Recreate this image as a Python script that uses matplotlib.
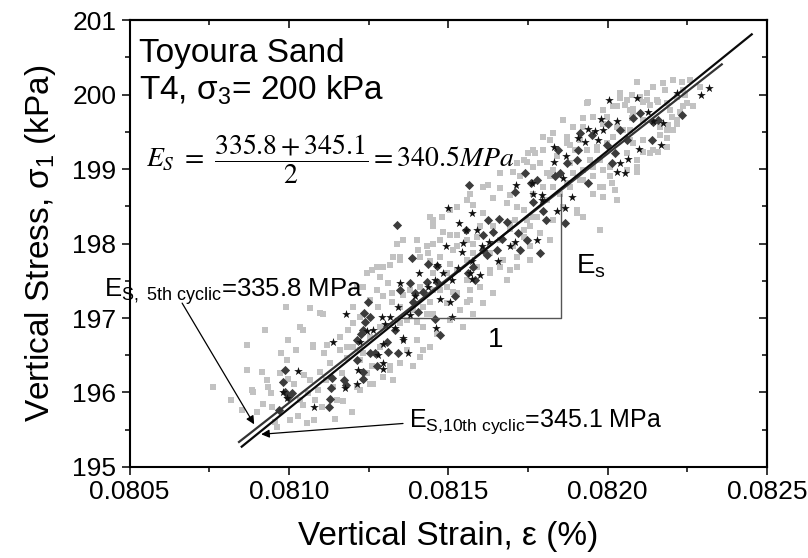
import matplotlib
matplotlib.use("Agg")
import matplotlib.pyplot as plt
from matplotlib.ticker import MultipleLocator

plt.rcParams['font.family'] = ['Liberation Sans', 'DejaVu Sans']
plt.rcParams['mathtext.fontset'] = 'custom'
plt.rcParams['mathtext.rm'] = 'Liberation Sans'
plt.rcParams['mathtext.it'] = 'Liberation Sans:italic'
plt.rcParams['mathtext.bf'] = 'Liberation Sans:bold'

# grey squares (all cycles)
grey_strain = [
    0.080761, 0.080817, 0.080852, 0.080867, 0.080883, 0.080887, 0.080899, 0.080915, 0.080920, 0.080930,
    0.080935, 0.080943, 0.080946, 0.080956, 0.080964, 0.080974, 0.080972, 0.080995, 0.080998, 0.081004,
    0.081016, 0.081021, 0.081030, 0.081035, 0.081045, 0.081047, 0.081056, 0.081061, 0.081066, 0.081075,
    0.081079, 0.081082, 0.081092, 0.081098, 0.081103, 0.081110, 0.081116, 0.081121, 0.081129, 0.081139,
    0.081145, 0.081150, 0.081160, 0.081166, 0.081171, 0.081181, 0.081197, 0.081202, 0.081213, 0.081223,
    0.081234, 0.081244, 0.081260, 0.081265, 0.080992, 0.081066, 0.081098, 0.081035, 0.080998, 0.080869,
    0.080925,
    0.081338, 0.081406, 0.081349, 0.081317, 0.081286, 0.081260, 0.081312, 0.081276, 0.081296, 0.081323,
    0.081281, 0.081223, 0.081202, 0.081186, 0.081160, 0.081108, 0.081045, 0.081077, 0.081181, 0.081223,
    0.081254, 0.081286, 0.081349, 0.081370, 0.081401, 0.081390, 0.081422, 0.081432, 0.081443, 0.081349,
    0.081359, 0.081323, 0.081380, 0.081411, 0.081453, 0.081474, 0.081495, 0.081516, 0.081537, 0.081558,
    0.081527, 0.081495, 0.081453, 0.081506, 0.081474, 0.081437, 0.081453, 0.081516, 0.081558, 0.081579,
    0.081589, 0.081527, 0.081484, 0.081568, 0.081443, 0.081358, 0.081327, 0.081295, 0.081245, 0.081214,
    0.081254,
    0.081527, 0.081453, 0.081479, 0.081579, 0.081610, 0.081568, 0.081626, 0.081663, 0.081641, 0.081683,
    0.081715, 0.081694, 0.081725, 0.081746, 0.081788, 0.081809, 0.081798, 0.081830, 0.081892, 0.081898,
    0.081872, 0.081798, 0.081772, 0.081704, 0.081506, 0.081474, 0.081432, 0.081411, 0.081443, 0.081527,
    0.081558, 0.081579, 0.081600, 0.081641, 0.081694, 0.081709, 0.081746, 0.081767, 0.081757, 0.081736,
    0.081715, 0.081663, 0.081694, 0.081631, 0.081820, 0.081757, 0.081923, 0.081976, 0.081904,
    0.082091, 0.082143, 0.082175, 0.082206, 0.082237, 0.082258, 0.082039, 0.082060, 0.082123, 0.082154,
    0.082185, 0.082070, 0.082018, 0.081986, 0.081955, 0.081924, 0.081892, 0.081861, 0.081939, 0.081798,
    0.081830, 0.081872, 0.081882, 0.081934, 0.081966, 0.081997, 0.082070, 0.082112, 0.082164, 0.082185,
    0.082206, 0.082217, 0.082143, 0.082112, 0.082091, 0.082060, 0.081976, 0.081955, 0.081986, 0.082007,
    0.081955, 0.081924, 0.081913, 0.081882, 0.081830, 0.081767, 0.081736, 0.081751, 0.081851, 0.081955,
    0.081976,
    0.082232, 0.082290, 0.082180, 0.082102, 0.082076, 0.082039, 0.082055, 0.082081, 0.082112, 0.082159,
    0.082217, 0.082243, 0.082248, 0.082269, 0.082227, 0.082201, 0.082190, 0.082185, 0.082159, 0.082091,
    0.082029, 0.081997, 0.082070, 0.082076, 0.082013, 0.082023, 0.081986, 0.082123,
    0.081286, 0.081328, 0.081390, 0.081422, 0.081317,
    0.081934, 0.081986, 0.082028, 0.082081, 0.082133, 0.082196, 0.082237, 0.082269, 0.081861, 0.081924,
    0.081986, 0.082049, 0.082112, 0.082164, 0.082217, 0.081913, 0.081966, 0.082018, 0.082081, 0.082133,
    0.082185, 0.081840, 0.081882, 0.081945, 0.082007, 0.082060, 0.082091, 0.081819, 0.081872, 0.081924,
    0.081986, 0.082028, 0.081767, 0.081809, 0.081861, 0.081903, 0.081736, 0.081778, 0.081830, 0.081694,
    0.081736, 0.081788, 0.081663, 0.081704, 0.081757, 0.081631, 0.081673, 0.081715, 0.081589, 0.081631,
    0.081683, 0.081558, 0.081600, 0.081641, 0.081527, 0.081568, 0.081610, 0.081495, 0.081537, 0.081579,
    0.081453, 0.081506, 0.081547, 0.081422, 0.081464, 0.081401, 0.081443, 0.081370, 0.081411, 0.081349,
    0.081317, 0.081296, 0.081254, 0.081223,
    0.081233, 0.081276, 0.081349, 0.081401, 0.081453, 0.081506, 0.081558, 0.081610, 0.081663, 0.081715,
    0.081767, 0.081819, 0.081202,
]
grey_stress = [
    196.08, 195.90, 195.76, 196.30, 196.03, 196.01, 195.74, 196.28, 195.85, 196.17,
    196.08, 195.99, 195.81, 195.61, 195.54, 196.53, 196.26, 196.44, 196.18, 195.63,
    196.12, 196.57, 195.68, 195.90, 195.83, 196.23, 195.59, 195.99, 196.17, 196.61,
    195.63, 195.90, 196.03, 196.28, 195.81, 196.53, 196.17, 196.64, 196.39, 196.08,
    195.65, 195.90, 196.57, 196.26, 195.88, 196.46, 195.74, 196.61, 196.08, 196.44,
    196.53, 196.26, 196.35, 196.12, 197.15, 197.13, 197.07, 196.88, 196.70, 196.64,
    196.84,
    198.00, 197.91, 197.78, 197.71, 197.55, 197.65, 197.47, 197.38, 197.29, 197.22,
    197.15, 197.02, 196.93, 196.84, 196.75, 197.06, 196.84, 196.64, 196.61, 196.57,
    196.75, 196.88, 196.93, 196.97, 196.95, 197.11, 197.15, 197.06, 197.22, 197.15,
    197.31, 197.33, 197.38, 197.42, 197.38, 197.38, 197.42, 197.35, 197.11, 197.22,
    197.64, 197.60, 197.60, 197.73, 197.82, 197.87, 198.00, 197.91, 197.78, 197.87,
    198.09, 198.11, 198.16, 197.38, 198.36, 198.05, 197.82, 197.69, 197.60, 197.42,
    197.24,
    198.49, 198.32, 198.36, 198.52, 198.41, 198.67, 198.79, 198.74, 198.61, 198.54,
    198.49, 198.65, 198.90, 199.10, 199.08, 198.94, 198.76, 198.76, 198.94, 199.26,
    199.35, 199.26, 199.21, 198.96, 198.11, 198.05, 197.96, 197.82, 197.76, 197.96,
    198.05, 198.00, 198.23, 198.23, 198.20, 198.32, 198.32, 198.36, 198.23, 198.09,
    197.82, 197.69, 197.64, 197.64, 198.05, 197.78, 198.36, 198.18, 198.45,
    200.17, 200.10, 200.15, 200.19, 200.06, 200.19, 200.02, 199.93, 200.02, 199.93,
    199.88, 199.79, 199.84, 199.79, 199.70, 199.68, 199.57, 199.66, 199.90, 199.43,
    199.48, 199.43, 199.32, 199.26, 199.26, 199.35, 199.39, 199.39, 199.46, 199.52,
    199.52, 199.61, 199.26, 199.23, 199.12, 199.21, 199.12, 199.03, 198.99, 198.90,
    198.90, 198.99, 198.85, 198.76, 198.99, 199.03, 199.12, 199.21, 198.67, 198.67,
    198.76,
    200.17, 200.10, 200.06, 199.97, 199.99, 199.95, 199.86, 199.81, 199.90, 199.90,
    199.97, 199.99, 199.88, 199.84, 199.77, 199.70, 199.59, 199.41, 199.23, 198.96,
    199.57, 199.70, 199.52, 199.68, 198.81, 198.72, 198.63, 199.93,
    196.61, 196.17, 196.35, 196.57, 196.30,
    199.88, 199.79, 199.84, 199.75, 199.86, 199.79, 199.84, 199.84, 199.66, 199.57,
    199.61, 199.52, 199.66, 199.57, 199.66, 199.39, 199.30, 199.43, 199.35, 199.21,
    199.30, 199.17, 199.08, 199.12, 199.03, 198.99, 199.03, 198.90, 198.81, 198.85,
    198.76, 198.58, 198.67, 198.58, 198.49, 198.41, 198.45, 198.36, 198.32, 198.27,
    198.18, 198.14, 198.05, 197.96, 197.96, 197.87, 197.78, 197.69, 197.69, 197.60,
    197.51, 197.51, 197.42, 197.33, 197.33, 197.24, 197.20, 197.20, 197.11, 197.06,
    197.06, 196.97, 196.88, 196.88, 196.79, 196.70, 196.61, 196.57, 196.48, 196.39,
    196.35, 196.21, 196.12, 196.03,
    197.42, 197.69, 197.82, 198.05, 198.23, 198.45, 198.58, 198.76, 198.94, 199.08,
    199.26, 199.39, 197.15,
]

# dark grey diamonds (5th cyclic)
diamond_strain = [
    0.080988, 0.080983, 0.080988, 0.080998, 0.081009, 0.080970, 0.081134, 0.081131, 0.081129, 0.081127,
    0.081173, 0.081179, 0.081213, 0.081234, 0.081254, 0.081270, 0.081232, 0.081213, 0.081225, 0.081239,
    0.081237, 0.081254, 0.081307, 0.081312, 0.081333, 0.081343, 0.081404, 0.081390, 0.081249,
    0.081385, 0.081436, 0.081464, 0.081434, 0.081464, 0.081380, 0.081349, 0.081396, 0.081422, 0.081234,
    0.081474, 0.081458, 0.081521, 0.081563, 0.081579, 0.081584, 0.081276, 0.081338,
    0.081565, 0.081741, 0.081709, 0.081760, 0.081767, 0.081798, 0.081806, 0.081626, 0.081659, 0.081683,
    0.081556, 0.081610, 0.081639, 0.081668, 0.081720, 0.081748, 0.081788, 0.081725, 0.081652, 0.081610,
    0.081621, 0.081866, 0.081845, 0.081872, 0.081851,
    0.081913, 0.081950, 0.082002, 0.082039, 0.082060, 0.082102, 0.082138, 0.082232, 0.081908, 0.081903,
    0.081835, 0.081778, 0.081939, 0.082013, 0.082143, 0.082081, 0.082023, 0.081999, 0.082159,
]
diamond_stress = [
    196.30, 196.14, 196.01, 195.94, 195.99, 195.76, 196.19, 196.06, 195.91, 195.81,
    196.17, 196.10, 196.44, 196.28, 196.53, 196.53, 196.18, 196.70, 196.79, 196.95,
    197.07, 197.02, 196.68, 196.55, 196.84, 196.53, 197.08, 197.22, 197.22,
    197.80, 197.73, 197.70, 197.49, 197.49, 197.47, 197.38, 197.33, 197.35, 196.84,
    196.77, 196.99, 197.29, 197.60, 197.69, 197.51, 196.36, 198.25,
    198.78, 198.94, 198.69, 198.81, 198.56, 198.43, 198.32, 198.32, 198.33, 198.29,
    198.18, 198.11, 198.15, 198.06, 198.14, 198.05, 197.87, 197.91, 197.91, 197.91,
    197.85, 198.27, 199.26, 199.08, 198.94,
    199.48, 199.46, 199.61, 199.52, 199.39, 199.75, 199.39, 199.72, 199.26, 199.12,
    198.90, 198.85, 198.81, 199.08, 199.63, 199.68, 199.21, 199.32, 199.66,
]

# black stars (10th cyclic)
star_strain = [
    0.081028, 0.080983, 0.080995, 0.081080, 0.081139, 0.081176, 0.081213, 0.081218, 0.081223, 0.081179,
    0.081296, 0.081296, 0.081357, 0.081375, 0.081343, 0.081317, 0.081302, 0.081380,
    0.081492, 0.081547, 0.081544, 0.081464, 0.081409, 0.081349, 0.081437, 0.081458, 0.081511, 0.081396,
    0.081474, 0.081506, 0.081291, 0.081513, 0.081462, 0.081244, 0.081265, 0.081333, 0.081359, 0.081294,
    0.081281, 0.081574,
    0.081498, 0.081574, 0.081535, 0.081589, 0.081555, 0.081605, 0.081629, 0.081694, 0.081709, 0.081777,
    0.081767, 0.081793, 0.081712, 0.081762, 0.081832, 0.081833, 0.081868, 0.081861, 0.081887, 0.081840,
    0.081866, 0.081484, 0.081532, 0.081568, 0.081600, 0.081657, 0.081574,
    0.082005, 0.082091, 0.081979, 0.082030, 0.081939, 0.081960, 0.081985, 0.081908, 0.081929, 0.081971,
    0.082065, 0.082039, 0.082029, 0.082055, 0.082099, 0.082167, 0.082128, 0.082143, 0.082175, 0.082217,
    0.081793, 0.082293, 0.082317,
]
star_stress = [
    196.29, 196.01, 195.92, 195.81, 196.68, 196.06, 196.12, 196.30, 196.68, 197.06,
    196.39, 196.32, 196.71, 196.53, 197.15, 197.01, 196.92, 197.04,
    197.97, 198.01, 197.88, 197.71, 197.60, 197.47, 197.42, 197.51, 197.51, 197.29,
    197.26, 197.22, 197.01, 197.01, 196.87, 196.82, 196.84, 196.86, 196.73, 196.65,
    196.50, 197.52,
    198.47, 198.41, 198.28, 198.18, 198.18, 197.96, 198.02, 197.96, 198.02, 198.05,
    198.67, 198.58, 198.78, 198.81, 199.29, 199.10, 199.17, 198.88, 198.63, 198.43,
    198.47, 197.60, 197.67, 197.60, 197.58, 197.76, 197.76,
    199.93, 199.96, 199.67, 199.65, 199.54, 199.51, 199.53, 199.41, 199.36, 199.39,
    199.14, 199.08, 198.96, 198.94, 199.27, 199.32, 199.76, 199.64, 199.62, 200.02,
    198.65, 200.00, 200.09,
]

# fitted lines: 5th cyclic (335.8 MPa) and 10th cyclic (345.1 MPa)
fit5_strain = [0.0808435, 0.082358]
fit5_stress = [195.336, 200.405]
fit10_strain = [0.080852, 0.082452]
fit10_stress = [195.273, 200.808]

# slope triangle
tri_strain = [0.0813326, 0.081853, 0.081853]
tri_stress = [197.0, 197.0, 198.67]

fig = plt.figure(figsize=(8.08, 5.58), dpi=100)
ax = fig.add_axes([0.1603, 0.1631, 0.789, 0.801])

ax.scatter(grey_strain, grey_stress, marker='s', s=13, color='#c2c2c2', linewidths=0, zorder=2)
ax.scatter(diamond_strain, diamond_stress, marker='D', s=22, color='#3c3c3c', linewidths=0, zorder=3)
ax.scatter(star_strain, star_stress, marker='*', s=42, color='#111111', linewidths=0, zorder=4)

ax.plot(fit5_strain, fit5_stress, color='#333333', lw=1.6, zorder=5)
ax.plot(fit10_strain, fit10_stress, color='#0a0a0a', lw=1.6, zorder=5)
ax.plot(tri_strain, tri_stress, color='#555555', lw=1.0, zorder=4)

ax.set_xlim(0.0805, 0.0825)
ax.set_ylim(195, 201)
ax.set_xticks([0.0805, 0.0810, 0.0815, 0.0820, 0.0825])
ax.set_xticklabels(['0.0805', '0.0810', '0.0815', '0.0820', '0.0825'])
ax.xaxis.set_minor_locator(MultipleLocator(0.00025))
ax.yaxis.set_major_locator(MultipleLocator(1))
ax.yaxis.set_minor_locator(MultipleLocator(0.5))

for s in ax.spines.values():
    s.set_linewidth(1.5)
ax.tick_params(which='both', direction='out', width=1.1, labelsize=19, top=False, right=False)
ax.tick_params(which='major', length=6)
ax.tick_params(which='minor', length=3.5)

top = ax.secondary_xaxis('top')
top.set_xticks(ax.get_xticks())
top.xaxis.set_minor_locator(MultipleLocator(0.00025))
top.tick_params(which='both', direction='in', width=1.1, labeltop=False)
top.tick_params(which='major', length=6)
top.tick_params(which='minor', length=3.5)
top.spines['top'].set_linewidth(1.5)
right = ax.secondary_yaxis('right')
right.yaxis.set_major_locator(MultipleLocator(1))
right.yaxis.set_minor_locator(MultipleLocator(0.5))
right.tick_params(which='both', direction='in', width=1.1, labelright=False)
right.tick_params(which='major', length=6)
right.tick_params(which='minor', length=3.5)
right.spines['right'].set_linewidth(1.5)

ax.set_xlabel('Vertical Strain, ε (%)', fontsize=24, labelpad=12)
ax.set_ylabel('Vertical Stress, σ$_1$ (kPa)', fontsize=24, labelpad=10)

ax.text(0.080531, 200.436, 'Toyoura Sand', fontsize=24, va='baseline')
ax.text(0.080531, 199.926, 'T4, σ$_3$= 200 kPa', fontsize=24, va='baseline')
ax.text(0.080552, 199.134, r'$E_S\ =\ \dfrac{335.8+345.1}{2}=340.5MPa$',
        fontsize=20, va='center', math_fontfamily='stix')

ax.text(0.081900, 197.69, 'E$_\\mathrm{s}$', fontsize=20, va='center')
ax.text(0.081648, 196.70, '1', fontsize=20, va='center', ha='center')

ax.text(0.080420, 197.282, r'E$_{\mathrm{S,\ 5th\ cyclic}}$=335.8 MPa', fontsize=18.5,
        va='baseline', clip_on=False)
ax.text(0.081377, 195.537, r'E$_{\mathrm{S{,}10th\ cyclic}}$=345.1 MPa', fontsize=18,
        va='baseline')

ax.annotate('', xy=(0.080891, 195.573), xytext=(0.080665, 197.20),
            arrowprops=dict(arrowstyle='-|>', color='k', lw=0.9, mutation_scale=12, shrinkA=0, shrinkB=0))
ax.annotate('', xy=(0.080913, 195.439), xytext=(0.081358, 195.584),
            arrowprops=dict(arrowstyle='-|>', color='k', lw=0.9, mutation_scale=12, shrinkA=0, shrinkB=0))

fig.savefig('out.png', dpi=100)
